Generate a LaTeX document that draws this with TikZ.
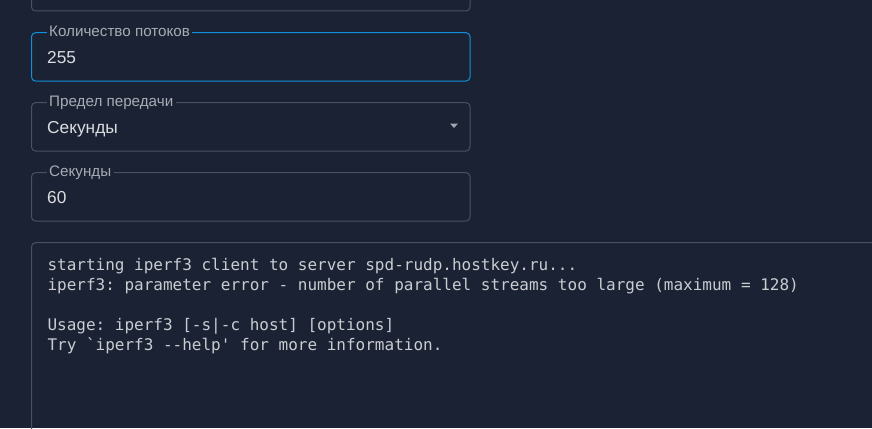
\documentclass[tikz,border=0pt]{standalone}
\usepackage{fontspec}
\setmainfont{Liberation Sans}
\setmonofont{DejaVu Sans Mono}
\definecolor{panelbg}{HTML}{1B2233}
\definecolor{fieldline}{HTML}{4A5261}
\definecolor{focusline}{HTML}{1190DC}
\definecolor{labeltext}{HTML}{A7ACB4}
\definecolor{valuetext}{HTML}{DADCE0}
\definecolor{termtext}{HTML}{C9CCD1}
\definecolor{arrowgrey}{HTML}{A3A8B0}

\begin{document}
\begin{tikzpicture}[x=1pt,y=-1pt,
    field/.style={draw=fieldline,line width=1pt,rounded corners=4pt},
    fieldlabel/.style={anchor=base west,fill=panelbg,text=labeltext,inner xsep=2.5pt,inner ysep=0pt,font=\fontsize{15.2}{17}\selectfont},
    fieldvalue/.style={anchor=base west,text=valuetext,inner sep=0pt,font=\fontsize{17.3}{20}\selectfont},
    termline/.style={anchor=base west,text=termtext,inner sep=0pt,font=\ttfamily\fontsize{16}{20}\selectfont}]
    \fill[panelbg] (0,0) rectangle (872,428);
    \useasboundingbox (0,0) rectangle (872,428);
    \clip (0,0) rectangle (872,428);

    \draw[field] (31.5,-20) rectangle (470,11);
    \draw[field,draw=focusline] (31.5,32.7) rectangle (470,81);
    \draw[field] (31.5,102.7) rectangle (470,151);
    \draw[field] (31.5,172.7) rectangle (470,221);
    \draw[field] (31.5,242.7) rectangle (920,470);%terminal

    \node[fieldlabel] (lblthreads) at (46.5,36.7) {Количество потоков};
    \node[fieldvalue] (valthreads) at (47,63.3) {255};
    \node[fieldlabel] (lbllimit) at (46.5,106.7) {Предел передачи};
    \node[fieldvalue] (vallimit) at (47,133.3) {Секунды};
    \fill[arrowgrey] (450,123.5) -- (458,123.5) -- (454,128) -- cycle;
    \node[fieldlabel] (lblsec) at (46.5,176.7) {Секунды};
    \node[fieldvalue] (valsec) at (47,203.3) {60};

    \node[termline] (outa) at (47.3,270) {starting iperf3 client to server spd-rudp.hostkey.ru...};
    \node[termline] (outb) at (47.3,290) {iperf3: parameter error - number of parallel streams too large (maximum = 128)};
    \node[termline] (outc) at (47.3,330) {Usage: iperf3 [-s|-c host] [options]};
    \node[termline] (outd) at (47.3,350) {Try `iperf3 --help' for more information.};
\end{tikzpicture}
\end{document}
